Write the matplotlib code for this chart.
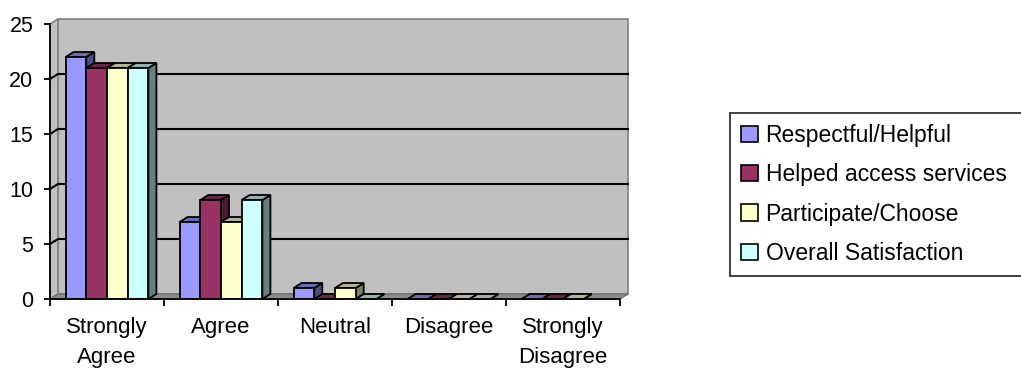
import numpy as np
import matplotlib.pyplot as plt
from matplotlib.patches import Polygon, Patch
from matplotlib.colors import to_rgb

plt.rcParams['font.family'] = ['Liberation Sans', 'DejaVu Sans']

categories = ['Strongly\nAgree', 'Agree', 'Neutral', 'Disagree', 'Strongly\nDisagree']
series = ['Respectful/Helpful', 'Helped access services', 'Participate/Choose', 'Overall Satisfaction']
respectful = [22, 7, 1, 0, 0]
helped = [21, 9, 0, 0, 0]
participate = [21, 7, 1, 0, 0]
overall = [21, 9, 0, 0, np.nan]
colors = ['#9999FF', '#993366', '#FFFFCC', '#CCFFFF']

W, H = 1021, 369
fig = plt.figure(figsize=(W / 100, H / 100), dpi=100)
ax_l, ax_b, ax_w, ax_h = 50, 299, 570, 275
ax = fig.add_axes([ax_l / W, (H - ax_b) / H, ax_w / W, ax_h / H])
ncat = len(categories)
ymax = 25
ax.set_xlim(0, ncat)
ax.set_ylim(0, ymax)

# depth of the 3d box, in data units (8 px right, 5 px up)
ddx = 8 / ax_w * ncat
ddy = 5 / ax_h * ymax


def shade(c, f):
    r, g, b = to_rgb(c)
    return (r * f, g * f, b * f)


def poly(pts, fc, ec, lw, z):
    ax.add_patch(Polygon(pts, closed=True, facecolor=fc, edgecolor=ec, lw=lw,
                         zorder=z, clip_on=False, joinstyle='miter'))


# walls and floor
poly([(ddx, ddy), (ncat + ddx, ddy), (ncat + ddx, ymax + ddy), (ddx, ymax + ddy)],
     '#C0C0C0', '#808080', 1.2, 1)
poly([(0, 0), (ddx, ddy), (ddx, ymax + ddy), (0, ymax)], '#C0C0C0', '#808080', 1.2, 1)
poly([(0, 0), (ncat, 0), (ncat + ddx, ddy), (ddx, ddy)], '#8C8C8C', '#6E6E6E', 1.0, 1.5)

for v in range(5, ymax, 5):
    ax.plot([0, ddx, ncat + ddx], [v, v + ddy, v + ddy], color='black', lw=1.5,
            zorder=2, clip_on=False, solid_joinstyle='miter')

# bars drawn as front face, top and right side
data = [respectful, helped, participate, overall]
bw = 20.7 / ax_w * ncat
z = 3
for ci in range(ncat):
    for si, vals in enumerate(data):
        h = vals[ci]
        if np.isnan(h):
            continue
        x0 = ci + 0.5 + (si - 2) * bw
        x1 = x0 + bw
        c = colors[si]
        poly([(x1, 0), (x1 + ddx, ddy), (x1 + ddx, h + ddy), (x1, h)],
             shade(c, 0.5), 'black', 1.3, z)
        poly([(x0, h), (x1, h), (x1 + ddx, h + ddy), (x0 + ddx, h + ddy)],
             shade(c, 0.7), 'black', 1.3, z + 0.1)
        if h > 0:
            ax.bar(x0, h, width=bw, align='edge', color=c, edgecolor='black',
                   lw=1.3, zorder=z + 0.2)
        z += 1

for s in ['top', 'right']:
    ax.spines[s].set_visible(False)
for s in ['left', 'bottom']:
    ax.spines[s].set_color('black')
    ax.spines[s].set_linewidth(1.3)
    ax.spines[s].set_zorder(100)
ax.patch.set_visible(False)

ax.set_yticks(range(0, ymax + 1, 5))
ax.tick_params(axis='y', length=4, width=1.3, pad=8, labelsize=15.5)
ax.set_xticks(range(ncat + 1))
ax.set_xticklabels([])
ax.tick_params(axis='x', which='major', length=5, width=1.3)
ax.set_xticks(np.arange(ncat) + 0.5, minor=True)
ax.set_xticklabels(categories, minor=True, fontsize=16, linespacing=1.55)
ax.tick_params(axis='x', which='minor', length=0, pad=13)

handles = [Patch(facecolor=c, edgecolor='black', lw=1.2) for c in colors]
leg = fig.legend(handles, series, loc='upper left', mode='expand',
                 bbox_to_anchor=(730 / W, (H - 273) / H, 330 / W, 160 / H),
                 borderaxespad=0, fontsize=16.5, frameon=True, fancybox=False,
                 handlelength=0.7, handleheight=0.7, handletextpad=0.35,
                 labelspacing=0.7, borderpad=0.5)
leg.get_frame().set_edgecolor('black')
leg.get_frame().set_linewidth(1.3)

fig.savefig('out.png', dpi=100)
